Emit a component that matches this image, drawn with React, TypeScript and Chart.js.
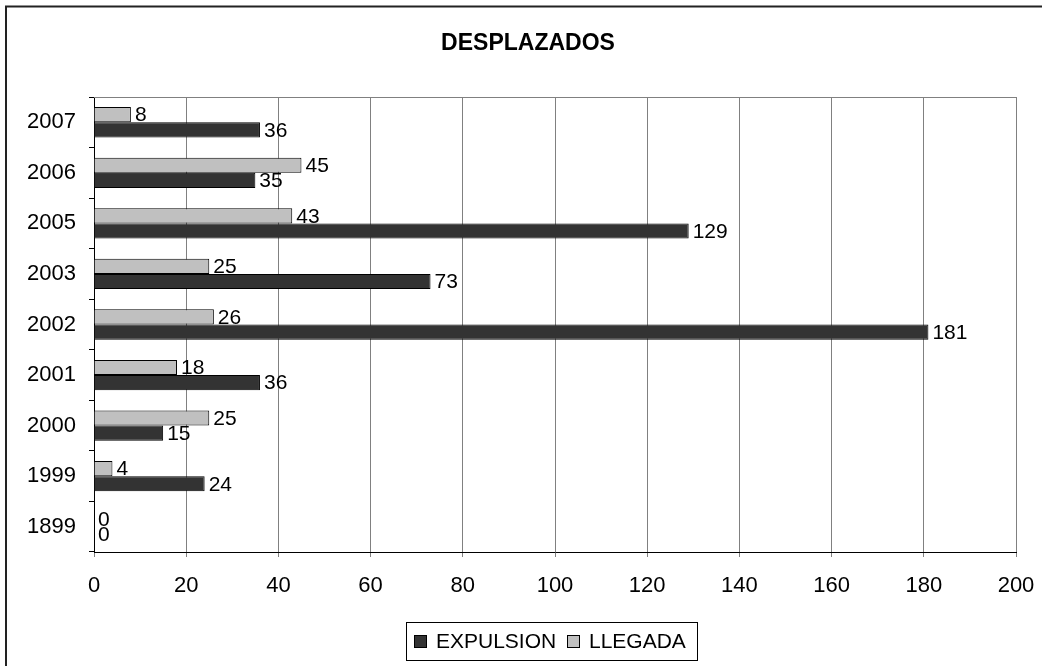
import React, { useEffect, useRef } from "react";
import { Chart, registerables } from "chart.js";

Chart.register(...registerables);

const categories = ["2007", "2006", "2005", "2003", "2002", "2001", "2000", "1999", "1899"];
const expulsion = [36, 35, 129, 73, 181, 36, 15, 24, 0];
const llegada = [8, 45, 43, 25, 26, 18, 25, 4, 0];
const seriesNames = ["EXPULSION", "LLEGADA"];
const xTickStep = 20;
const xMax = 200;
const title = "DESPLAZADOS";

const FONT = "'Liberation Sans', Arial, sans-serif";
const DARK = "#333333";
const LIGHT = "#c0c0c0";

export default function App() {
  const ref = useRef<HTMLCanvasElement | null>(null);

  useEffect(() => {
    document.body.style.margin = "0";
    const canvas = ref.current;
    if (!canvas) return;

    const decor = {
      id: "decor",
      afterDraw(chart: any) {
        const ctx = chart.ctx;
        const a = chart.chartArea;
        ctx.save();
        // plot top border
        ctx.strokeStyle = "#808080";
        ctx.lineWidth = 1;
        ctx.beginPath();
        ctx.moveTo(a.left, a.top + 0.5);
        ctx.lineTo(a.right, a.top + 0.5);
        ctx.stroke();
        // outer border (top & left)
        ctx.strokeStyle = "#222";
        ctx.lineWidth = 2;
        ctx.beginPath();
        ctx.moveTo(6, 666);
        ctx.lineTo(6, 6.5);
        ctx.lineTo(1042, 6.5);
        ctx.stroke();
        // title
        ctx.fillStyle = "#000";
        ctx.font = `bold 23px ${FONT}`;
        ctx.textAlign = "center";
        ctx.textBaseline = "middle";
        ctx.fillText(title, 528, 44);
        // legend
        ctx.strokeStyle = "#000";
        ctx.lineWidth = 1;
        ctx.strokeRect(406.5, 622.5, 291, 38);
        ctx.font = `21px ${FONT}`;
        ctx.textAlign = "left";
        const items = [
          { x: 414, color: DARK, text: seriesNames[0] },
          { x: 567, color: LIGHT, text: seriesNames[1] },
        ];
        for (const it of items) {
          ctx.fillStyle = it.color;
          ctx.fillRect(it.x, 635, 13, 13);
          ctx.strokeRect(it.x + 0.5, 635.5, 12, 12);
          ctx.fillStyle = "#000";
          ctx.fillText(it.text, it.x + 22, 642);
        }
        // data labels
        ctx.font = `21px ${FONT}`;
        ctx.textAlign = "left";
        ctx.textBaseline = "middle";
        chart.data.datasets.forEach((ds: any, di: number) => {
          const meta = chart.getDatasetMeta(di);
          meta.data.forEach((el: any, i: number) => {
            ctx.fillStyle = "#000";
            ctx.fillText(String(ds.data[i]), el.x + 4, el.y + 1);
          });
        });
        ctx.restore();
      },
    };

    const chart = new Chart(canvas, {
      type: "bar",
      data: {
        labels: categories,
        datasets: [
          {
            label: seriesNames[1],
            data: llegada,
            backgroundColor: LIGHT,
            borderColor: "#000",
            borderWidth: 1,
            categoryPercentage: 0.6,
            barPercentage: 1,
          },
          {
            label: seriesNames[0],
            data: expulsion,
            backgroundColor: DARK,
            borderColor: "#000",
            borderWidth: 1,
            categoryPercentage: 0.6,
            barPercentage: 1,
          },
        ],
      },
      options: {
        indexAxis: "y",
        responsive: false,
        animation: false,
        layout: { padding: { left: 0, top: 97, right: 26, bottom: 0 } },
        plugins: {
          legend: { display: false },
          title: { display: false },
          tooltip: { enabled: false },
        },
        scales: {
          x: {
            min: 0,
            max: xMax,
            ticks: {
              stepSize: xTickStep,
              color: "#000",
              font: { family: FONT, size: 22 },
              padding: 16,
            },
            grid: { color: "#808080", tickLength: 5, drawOnChartArea: true },
            border: { color: "#000", width: 1 },
            afterFit: (s: any) => {
              s.height = 114;
              s.paddingLeft = 0;
              s.paddingRight = 0;
            },
          },
          y: {
            ticks: {
              color: "#000",
              font: { family: FONT, size: 22 },
              padding: 13,
            },
            grid: { offset: true, drawOnChartArea: false, color: "#000", tickLength: 5 },
            border: { color: "#000", width: 1 },
            afterFit: (s: any) => {
              s.width = 94;
              s.paddingTop = 0;
              s.paddingBottom = 0;
            },
          },
        },
      },
      plugins: [decor],
    } as any);

    return () => chart.destroy();
  }, []);

  return <canvas ref={ref} width={1042} height={666} style={{ display: "block" }} />;
}
